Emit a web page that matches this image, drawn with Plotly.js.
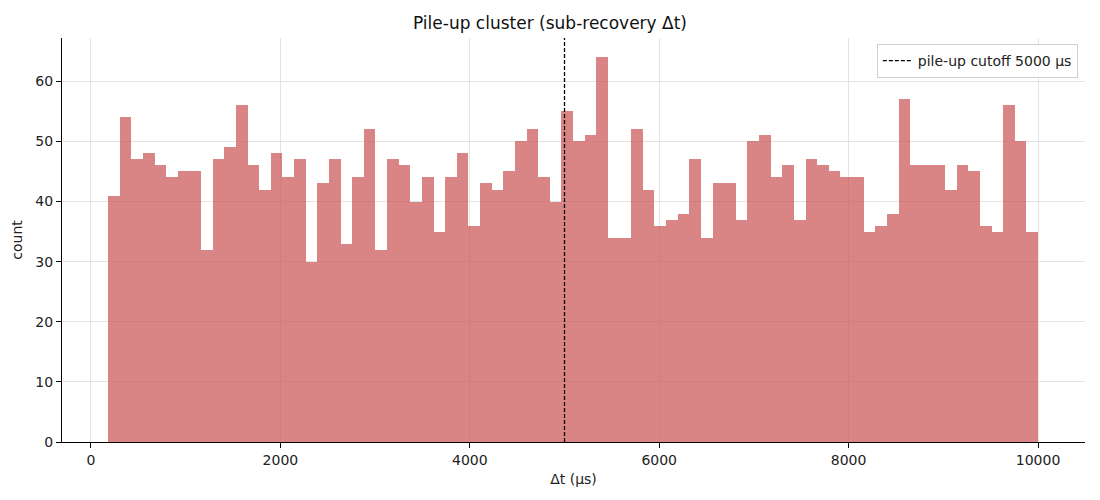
<!DOCTYPE html>
<html>
<head>
<meta charset="utf-8">
<script src="https://cdn.plot.ly/plotly-3.0.1.min.js"></script>
<style>
  body { margin: 0; background: #fff; }
  #plot { width: 1100px; height: 500px; }
</style>
</head>
<body>
<div id="plot"></div>
<script>
// Histogram counts per bin (80 bins)
var counts = [
    41, 54, 47, 48, 46, 44, 45, 45, 32, 47,
    49, 56, 46, 42, 48, 44, 47, 30, 43, 47,
    33, 44, 52, 32, 47, 46, 40, 44, 35, 44,
    48, 36, 43, 42, 45, 50, 52, 44, 40, 55,
    50, 51, 64, 34, 34, 52, 42, 36, 37, 38,
    47, 34, 43, 43, 37, 50, 51, 44, 46, 37,
    47, 46, 45, 44, 44, 35, 36, 38, 57, 46,
    46, 46, 42, 46, 45, 36, 35, 56, 50, 35
];
// bin edges: first edge and width (µs)
var binStart = 180;
var binWidth = 122.75;
var cutoff = 5000;

var xTicks = [0, 2000, 4000, 6000, 8000, 10000];
var yTicks = [0, 10, 20, 30, 40, 50, 60];

//Builds the bin centres from the edges
var centres = counts.map(function(c, i) {
    return binStart + binWidth * (i + 0.5);
});

var bars = {
    type: 'bar',
    x: centres,
    y: counts,
    width: binWidth,
    marker: { color: 'rgba(205,92,92,0.75)', line: { width: 0 } },
    showlegend: false,
    hoverinfo: 'x+y'
};

var tickFont = { family: 'DejaVu Sans', size: 14, color: '#222' };

var layout = {
    width: 1100,
    height: 500,
    paper_bgcolor: '#fff',
    plot_bgcolor: '#fff',
    font: { family: 'DejaVu Sans', size: 14, color: '#222' },
    margin: { l: 62, r: 15, t: 38, b: 58 },
    bargap: 0,
    title: {
        text: 'Pile-up cluster (sub-recovery Δt)',
        font: { family: 'DejaVu Sans', size: 17, color: '#111' },
        x: 0.5, xanchor: 'center', y: 0.953, yanchor: 'middle'
    },
    xaxis: {
        title: { text: 'Δt (μs)', font: tickFont, standoff: 7 },
        range: [-306, 10496],
        tickvals: xTicks,
        ticktext: xTicks.map(String),
        showgrid: true,
        gridcolor: '#e3e3e3',
        zeroline: false,
        showline: true,
        linecolor: '#000',
        linewidth: 1,
        ticks: 'outside',
        ticklen: 5,
        tickcolor: '#000',
        tickfont: tickFont
    },
    yaxis: {
        title: { text: 'count', font: tickFont, standoff: 9 },
        range: [0, 67.2],
        tickvals: yTicks,
        showgrid: true,
        gridcolor: '#e3e3e3',
        zeroline: false,
        showline: true,
        linecolor: '#000',
        linewidth: 1,
        ticks: 'outside',
        ticklen: 5,
        tickcolor: '#000',
        tickfont: tickFont
    },
    shapes: [{
        type: 'line',
        xref: 'x', yref: 'paper',
        x0: cutoff, x1: cutoff, y0: 0, y1: 1,
        line: { color: '#000', width: 1.3, dash: '4px,2px' },
        showlegend: true,
        name: 'pile-up cutoff ' + cutoff + ' μs'
    }],
    showlegend: true,
    legend: {
        x: 0.993, xanchor: 'right',
        y: 0.985, yanchor: 'top',
        bgcolor: 'rgba(255,255,255,0.85)',
        bordercolor: '#d0d0d0',
        borderwidth: 1,
        font: { family: 'DejaVu Sans', size: 14, color: '#222' }
    }
};

Plotly.newPlot('plot', [bars], layout, { displayModeBar: false, staticPlot: true });
</script>
</body>
</html>
